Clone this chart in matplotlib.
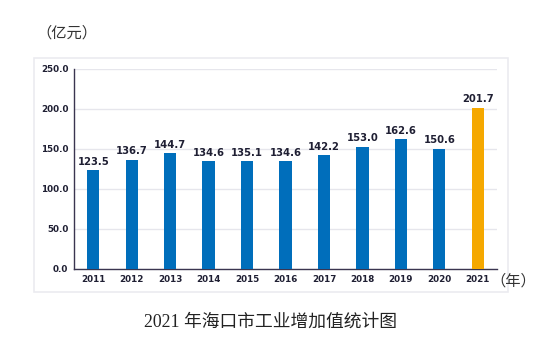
import matplotlib.pyplot as plt
from matplotlib.patches import Rectangle

plt.rcParams['font.family'] = ['DejaVu Sans', 'Noto Sans CJK SC']

# data
years = ['2011', '2012', '2013', '2014', '2015', '2016', '2017', '2018', '2019', '2020', '2021']
values = [123.5, 136.7, 144.7, 134.6, 135.1, 134.6, 142.2, 153.0, 162.6, 150.6, 201.7]
y_ticks = [0, 50, 100, 150, 200, 250]

blue = '#006EBB'
orange = '#F5A800'
colors = [blue] * (len(years) - 1) + [orange]

fig = plt.figure(figsize=(5.4, 3.53), dpi=100)

# light frame around the plot area
fig.patches.append(Rectangle((34 / 540, 1 - 292 / 353), 474 / 540, 234 / 353,
                             transform=fig.transFigure, fill=False,
                             edgecolor='#EBEBF0', linewidth=1.2))

ax = fig.add_axes([74 / 540, 1 - 269 / 353, 423 / 540, 200 / 353])
x = range(len(years))
bars = ax.bar(x, values, width=0.32, color=colors, zorder=3)

for xi, v in zip(x, values):
    ax.text(xi, v + 4, f'{v:.1f}', ha='center', va='bottom',
            fontsize=7.2, fontweight='bold', color='#1f1f33')

ax.set_xlim(-0.5, len(years) - 0.5)
ax.set_ylim(0, 250)
ax.set_yticks(y_ticks)
ax.set_yticklabels([f'{t:.1f}' for t in y_ticks])
ax.set_xticks(list(x))
ax.set_xticklabels(years)
ax.tick_params(axis='both', length=0, labelsize=6.3, colors='#1f1f33', pad=4)
for lbl in ax.get_xticklabels() + ax.get_yticklabels():
    lbl.set_fontweight('bold')

ax.grid(axis='y', color='#E6E6EC', linewidth=1.0, zorder=0)
for s in ['top', 'right']:
    ax.spines[s].set_visible(False)
for s in ['left', 'bottom']:
    ax.spines[s].set_color('#3a3550')
    ax.spines[s].set_linewidth(1.0)

fig.text(36 / 540, 1 - 33 / 353, '（亿元）', fontsize=11, va='center', ha='left',
         family=['Noto Sans CJK SC'], color='#333333')
fig.text(490 / 540, 1 - 281 / 353, '（年）', fontsize=11, va='center', ha='left',
         family=['Noto Sans CJK SC'], color='#333333')
fig.text(0.5, 1 - 322 / 353, '2021 年海口市工业增加值统计图', fontsize=12.8, va='center', ha='center',
         family=['Liberation Serif', 'Noto Sans CJK SC'], color='#222222')

fig.savefig('out.png', dpi=100)
